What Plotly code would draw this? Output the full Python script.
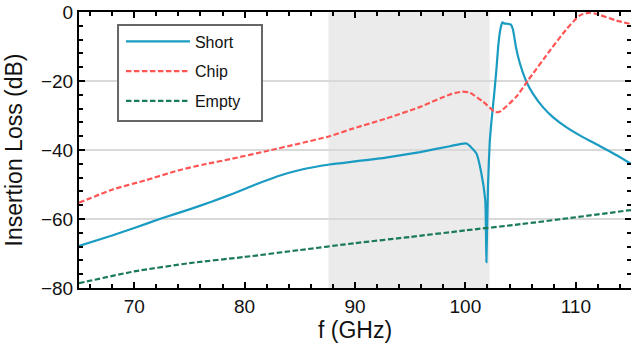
import plotly.graph_objects as go

# ---- data ----
short_f = [65, 68, 70, 72.5, 75, 77, 79, 81, 83, 85, 87.7, 90, 92.8, 95.9, 98.6, 100.1,
           101.0, 101.45, 101.8, 101.9, 102.05, 102.2, 102.35, 102.6, 102.8, 103.0, 103.2,
           103.35, 103.5, 103.8, 104.1, 104.3, 104.6, 104.9, 105.5, 106.1, 107.0, 107.9,
           109.1, 110.6, 112.2, 113.7, 115]
short_db = [-67.8, -64.8, -62.6, -59.8, -57.2, -55.0, -52.6, -50.0, -47.6, -45.8, -44.2, -43.3,
            -42.2, -40.6, -38.9, -38.1,
            -41.0, -46.8, -54.6, -72.5, -50.0, -38.0, -32.0, -24.0, -17.0, -9.0, -4.5,
            -3.0, -3.3, -3.4, -3.6, -5.0, -10.5, -14.5, -20.0, -23.6, -27.5, -30.4,
            -33.3, -36.2, -38.9, -41.5, -44.0]

chip_f = [65, 68, 71, 74, 76.3, 78.9, 82, 85, 87.7, 89.8, 92.8, 95.9, 98.6, 99.7, 100.4,
          101.6, 102.7, 103.1, 104.6, 105.7, 107.7, 109.1, 110.4, 111.3, 112.2, 113.7, 115]
chip_db = [-55.3, -51.5, -48.8, -45.9, -44.2, -42.5, -40.3, -38.1, -36.0, -33.8, -30.9, -27.5,
           -23.9, -23.1, -23.4, -26.0, -29.0, -28.9, -24.6, -19.7, -11.0, -5.2, -0.9, -0.2,
           -0.9, -2.5, -3.5]

empty_f = [65, 70, 75, 80, 85, 90, 95, 100, 105, 110, 115]
empty_db = [-78.6, -75.2, -72.8, -71.0, -69.0, -67.0, -65.2, -63.3, -61.5, -59.5, -57.4]

shade_band = [87.6, 102.2]
x_ticks = [70, 80, 90, 100, 110]
y_ticks = [0, -20, -40, -60, -80]

FONT = "Liberation Sans, Arial, sans-serif"

fig = go.Figure()
fig.add_trace(go.Scatter(x=short_f, y=short_db, mode="lines", name="Short",
                         line=dict(color="#1a9bc2", width=2.2, shape="spline", smoothing=0.5),
                         legendgroup="a"))
fig.add_trace(go.Scatter(x=chip_f, y=chip_db, mode="lines", name="Chip",
                         line=dict(color="#ff5555", width=2.2, dash="5.5px,2.5px", shape="spline", smoothing=0.6),
                         legendgroup="b"))
fig.add_trace(go.Scatter(x=empty_f, y=empty_db, mode="lines", name="Empty",
                         line=dict(color="#1a7a58", width=2.2, dash="5.5px,2.5px", shape="spline", smoothing=0.6),
                         legendgroup="c"))

# shaded frequency band
fig.add_shape(type="rect", xref="x", yref="paper", x0=shade_band[0], x1=shade_band[1],
              y0=0, y1=1, fillcolor="#ebebeb", line=dict(width=0), layer="below")
# legend frame
fig.add_shape(type="rect", xref="paper", yref="paper", x0=0.0707, x1=0.3315, y0=0.605, y1=0.953,
              fillcolor="white", line=dict(color="#666666", width=2), layer="above")

fig.update_layout(
    width=631, height=354,
    margin=dict(l=79, r=0, t=12, b=66),
    paper_bgcolor="white", plot_bgcolor="white",
    font=dict(family=FONT, size=19, color="#111111"),
    showlegend=True,
    legend=dict(x=0.076, y=0.955, xanchor="left", yanchor="top",
                borderwidth=0, bgcolor="rgba(0,0,0,0)",
                font=dict(size=16), tracegroupgap=6, itemwidth=64),
)
fig.update_xaxes(range=[65, 115], tickvals=x_ticks, ticks="inside", ticklen=6, tickwidth=2,
                 tickcolor="black", showline=True, linewidth=2, linecolor="black", mirror="ticks",
                 showgrid=False, zeroline=False, automargin=False,
                 minor=dict(dtick=2, ticks="inside", ticklen=4, tickwidth=1.5, tickcolor="black", showgrid=False),
                 title=dict(text="f (GHz)", standoff=0))
fig.update_yaxes(range=[-80, 0], tickvals=y_ticks, ticks="inside", ticklen=6, tickwidth=2,
                 tickcolor="black", showline=True, linewidth=2, linecolor="black", mirror="ticks",
                 showgrid=True, gridcolor="#d9d9d9", gridwidth=2, zeroline=False, automargin=False,
                 minor=dict(dtick=4, ticks="inside", ticklen=4, tickwidth=1.5, tickcolor="black", showgrid=False),
                 title=dict(text="Insertion Loss (dB)", standoff=12))

fig.write_html("out.html", config={"displayModeBar": False},
               post_script="document.body.style.margin='0';")
